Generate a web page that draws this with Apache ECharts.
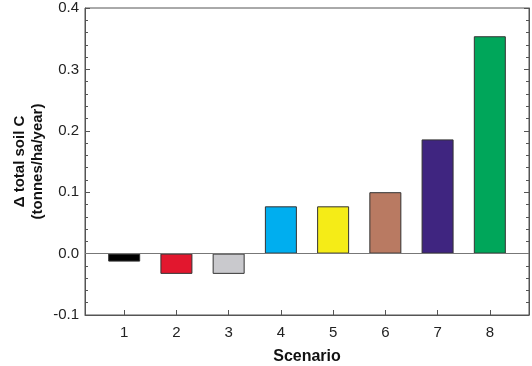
<!DOCTYPE html>
<html><head><meta charset="utf-8">
<script src="https://cdn.jsdelivr.net/npm/echarts@6/dist/echarts.min.js"></script>
<style>html,body{margin:0;padding:0;background:#fff}#c{width:532px;height:366px}</style>
</head><body><div id="c"></div>
<script>
var scenarios = [1, 2, 3, 4, 5, 6, 7, 8];
var deltaC = [-0.013, -0.033, -0.033, 0.077, 0.077, 0.100, 0.186, 0.354];
var barColors = ['#000000', '#e2172e', '#c9c9cd', '#00aeef', '#f5ec17', '#b97a62', '#3f2580', '#00a65a'];
var yTicks = [-0.1, 0.0, 0.1, 0.2, 0.3, 0.4];

var chart = echarts.init(document.getElementById('c'), null, {renderer: 'canvas'});
var axisCol = '#555';
var font = 'Liberation Sans, Arial, sans-serif';
chart.setOption({
  animation: false,
  grid: {left: 85, right: 3, top: 8, bottom: 51, show: true, borderColor: axisCol, borderWidth: 1,
         containLabel: false, outerBoundsMode: 'none'},
  xAxis: [{
    type: 'value', min: 0.25, max: 8.75,
    name: 'Scenario', nameLocation: 'middle', nameGap: 34, nameMoveOverlap: false,
    nameTextStyle: {fontFamily: font, fontWeight: 'bold', fontSize: 16, color: '#111'},
    axisLine: {show: true, onZero: false, lineStyle: {color: axisCol}},
    axisTick: {show: true, inside: true, length: 5, customValues: scenarios, lineStyle: {color: axisCol}},
    axisLabel: {customValues: scenarios, fontFamily: font, fontSize: 15, color: '#222', margin: 10},
    splitLine: {show: false}
  }],
  yAxis: [{
    type: 'value', min: yTicks[0], max: yTicks[yTicks.length - 1], interval: 0.1,
    name: 'Δ total soil C\n(tonnes/ha/year)', nameLocation: 'middle', nameGap: 38, nameMoveOverlap: false,
    nameTextStyle: {fontFamily: font, fontWeight: 'bold', fontSize: 15, color: '#111', lineHeight: 18},
    axisLine: {show: true, onZero: false, lineStyle: {color: axisCol}},
    axisTick: {show: true, inside: true, length: 5, lineStyle: {color: axisCol}},
    minorTick: {show: true, splitNumber: 5, length: 3, lineStyle: {color: axisCol}},
    axisLabel: {fontFamily: font, fontSize: 15, color: '#222', margin: 6, formatter: function (v) { return v.toFixed(1); }},
    splitLine: {show: false}
  }, {
    type: 'value', min: yTicks[0], max: yTicks[yTicks.length - 1], interval: 0.1, position: 'right',
    axisLine: {show: true, onZero: false, lineStyle: {color: axisCol}},
    axisTick: {show: true, inside: true, length: 5, lineStyle: {color: axisCol}},
    minorTick: {show: true, splitNumber: 5, length: 3, lineStyle: {color: axisCol}},
    axisLabel: {show: false},
    splitLine: {show: false}
  }],
  series: [{
    type: 'bar', barWidth: 32,
    data: scenarios.map(function (s, i) {
      return {value: [s, deltaC[i]], itemStyle: {color: barColors[i], borderColor: '#333', borderWidth: 1}};
    }),
    markLine: {
      silent: true, symbol: 'none', label: {show: false},
      lineStyle: {color: '#777', type: 'solid', width: 1},
      data: [{yAxis: 0}]
    },
    z: 3
  }]
});
</script></body></html>
